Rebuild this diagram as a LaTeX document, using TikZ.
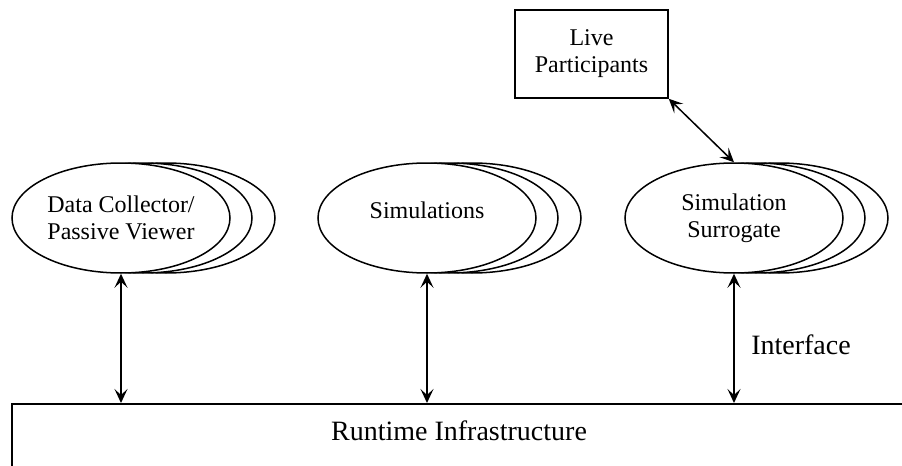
\documentclass[tikz,border=0pt]{standalone}
\usepackage{fontspec}
\setmainfont{Liberation Serif}
\usetikzlibrary{arrows.meta,shapes.geometric}
\tikzset{
  E/.style     = {draw, ellipse, fill=white, line width=0.75pt, inner sep=0pt,
                  minimum width=109pt, minimum height=55pt, align=center,
                  font=\fontsize{12}{13.4}\selectfont},
  stackE/.style = {E},
  liveB/.style = {draw, rectangle, line width=0.75pt, minimum width=76.5pt,
                  minimum height=44pt, align=center,
                  font=\fontsize{12}{13.4}\selectfont},
  rtiB/.style  = {draw, rectangle, line width=0.75pt, minimum width=460pt,
                  minimum height=40pt, anchor=north west},
  big/.style   = {font=\fontsize{14}{16}\selectfont},
  A/.style     = {{Stealth[length=7pt,width=6.5pt,inset=3pt]}-{Stealth[length=7pt,width=6.5pt,inset=3pt]},
                  line width=0.75pt},
}
\begin{document}
\begin{tikzpicture}[x=0.5pt,y=-0.5pt]

%% Layout (pixel grid, y down):
%% x: 121=collector, 427=simulations, 734=surrogate
%% y: 54=live box, 218=ellipses, 403=RTI top

\useasboundingbox (0,0) rectangle (902,466);
\clip (0,0) rectangle (902,466);

%% ─── federates (stacked ellipses, back to front) ─────────────────
\node[stackE] (dcC) at (166,218) {};
\node[stackE] (dcB) at (143,218) {};
\node[E] (dc) at (121,218) {Data Collector/\\Passive Viewer};

\node[stackE] (simC) at (472,218) {};
\node[stackE] (simB) at (449,218) {};
\node[E, text depth=8pt] (sim) at (427,218) {Simulations};

\node[stackE] (ssC) at (779,218) {};
\node[stackE] (ssB) at (756,218) {};
\node[E] (ss) at (734,218) {Simulation\\Surrogate};

%% ─── live participants ───────────────────────────────────────────
\node[liveB] (live) at (591.5,54) {Live\\Participants};

\draw[A] (live.south east)--(ss.north);

%% ─── runtime infrastructure ──────────────────────────────────────
\node[rtiB] (rti) at (11,403) {};
\node[big] (rtiLbl) at (459,431) {Runtime Infrastructure};

\draw[A] (dc.south)--(dc.south |- rti.north);
\draw[A] (sim.south)--(sim.south |- rti.north);
\draw[A] (ss.south)--(ss.south |- rti.north);

\node[big] (ifc) at (801,345) {Interface};

\end{tikzpicture}
\end{document}
